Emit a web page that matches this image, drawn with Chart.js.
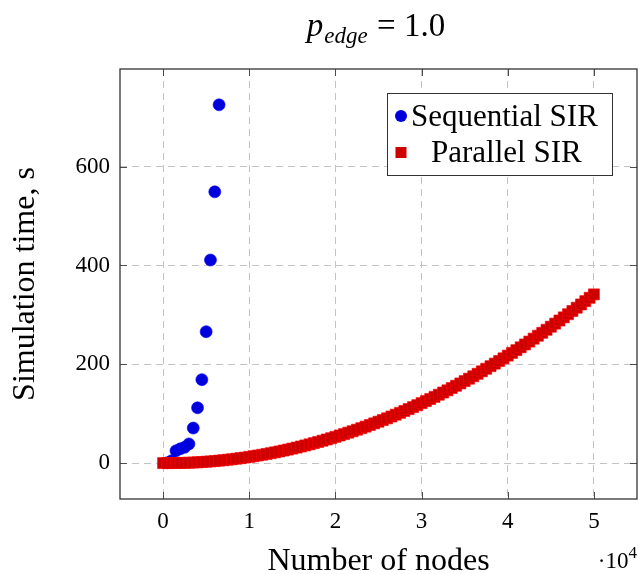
<!DOCTYPE html>
<html>
<head>
<meta charset="utf-8">
<script src="https://cdn.jsdelivr.net/npm/chart.js@4.4.1/dist/chart.umd.min.js"></script>
<style>
  html, body { margin: 0; padding: 0; background: #fff; }
</style>
</head>
<body>
<canvas id="timeChart" width="638" height="574"></canvas>
<script>
// Sequential SIR: number of nodes -> simulation time (s)
const seqNodes = [500, 1000, 1500, 2000, 2500, 3000, 3500, 4000, 4500, 5000, 5500, 6000, 6500];
const seqTime = [1.0, 5.0, 25, 29, 32, 39, 71, 112, 169, 266, 411, 549, 725];

// Parallel SIR
const parNodes = [
  0, 500, 1000, 1500, 2000, 2500, 3000, 3500, 4000, 4500,
  5000, 5500, 6000, 6500, 7000, 7500, 8000, 8500, 9000, 9500,
  10000, 10500, 11000, 11500, 12000, 12500, 13000, 13500, 14000, 14500,
  15000, 15500, 16000, 16500, 17000, 17500, 18000, 18500, 19000, 19500,
  20000, 20500, 21000, 21500, 22000, 22500, 23000, 23500, 24000, 24500,
  25000, 25500, 26000, 26500, 27000, 27500, 28000, 28500, 29000, 29500,
  30000, 30500, 31000, 31500, 32000, 32500, 33000, 33500, 34000, 34500,
  35000, 35500, 36000, 36500, 37000, 37500, 38000, 38500, 39000, 39500,
  40000, 40500, 41000, 41500, 42000, 42500, 43000, 43500, 44000, 44500,
  45000, 45500, 46000, 46500, 47000, 47500, 48000, 48500, 49000, 49500,
  50000
];
const parTime = [
  0.2, 0.2, 0.3, 0.3, 0.4, 0.6, 0.9, 1.3, 1.7, 2.3,
  2.9, 3.5, 4.3, 5.1, 6.0, 6.9, 7.9, 9.0, 10.2, 11.4,
  12.7, 14.1, 15.5, 17.0, 18.6, 20.2, 21.9, 23.7, 25.6, 27.5,
  29.5, 31.5, 33.7, 35.9, 38.1, 40.5, 42.9, 45.4, 47.9, 50.5,
  53.2, 56.0, 58.8, 61.7, 64.6, 67.7, 70.8, 73.9, 77.2, 80.5,
  83.9, 87.3, 90.8, 94.4, 98.1, 101.8, 105.6, 109.5, 113.4, 117.4,
  121.5, 125.6, 129.9, 134.1, 138.5, 142.9, 147.4, 152.0, 156.6, 161.3,
  166.1, 170.9, 175.8, 180.8, 185.9, 191.0, 196.2, 201.4, 206.7, 212.1,
  217.6, 223.1, 228.7, 234.4, 240.2, 246.0, 251.9, 257.8, 263.8, 269.9,
  276.1, 282.3, 288.6, 295.0, 301.4, 307.9, 314.5, 321.1, 327.9, 334.6,
  341.5
];

const xTicks = [0, 10000, 20000, 30000, 40000, 50000];
const yTicks = [0, 200, 400, 600];
const seriesNames = ['Sequential SIR', 'Parallel SIR'];

const serif = '"Liberation Serif", "DejaVu Serif", serif';

// frame, inward ticks, legend box, title and the 10^4 factor
const decorations = {
  id: 'decorations',
  afterDraw(chart) {
    const ctx = chart.ctx;
    const a = chart.chartArea;
    const xs = chart.scales.x, ys = chart.scales.y;
    ctx.save();

    // inward tick marks on all four sides
    ctx.strokeStyle = '#4d4d4d';
    ctx.lineWidth = 1;
    ctx.beginPath();
    xTicks.forEach(v => {
      const px = Math.round(xs.getPixelForValue(v)) + 0.5;
      ctx.moveTo(px, a.bottom); ctx.lineTo(px, a.bottom - 7);
      ctx.moveTo(px, a.top); ctx.lineTo(px, a.top + 7);
    });
    yTicks.forEach(v => {
      const py = Math.round(ys.getPixelForValue(v)) + 0.5;
      ctx.moveTo(a.left, py); ctx.lineTo(a.left + 7, py);
      ctx.moveTo(a.right, py); ctx.lineTo(a.right - 7, py);
    });
    ctx.stroke();

    // frame
    ctx.strokeStyle = '#333';
    ctx.lineWidth = 1.3;
    ctx.strokeRect(a.left, a.top, a.right - a.left, a.bottom - a.top);

    // legend
    ctx.fillStyle = '#fff';
    ctx.fillRect(387, 93, 225, 82);
    ctx.strokeStyle = '#333';
    ctx.lineWidth = 1;
    ctx.strokeRect(387.5, 93.5, 225, 82);
    ctx.fillStyle = '#0000dd';
    ctx.beginPath();
    ctx.arc(401, 116, 6, 0, Math.PI * 2);
    ctx.fill();
    ctx.fillStyle = '#cc0000';
    ctx.fillRect(395.5, 147, 11, 11);
    ctx.fillStyle = '#000';
    ctx.font = '31px ' + serif;
    ctx.textAlign = 'left';
    ctx.textBaseline = 'alphabetic';
    ctx.fillText(seriesNames[0], 411, 126);
    ctx.fillText(seriesNames[1], 431, 162);

    // title  p_edge = 1.0
    const big = '33px ' + serif, bigIt = 'italic 33px ' + serif, sub = 'italic 23px ' + serif;
    ctx.font = bigIt; const wp = ctx.measureText('p').width;
    ctx.font = sub; const we = ctx.measureText('edge').width;
    ctx.font = big; const wr = ctx.measureText(' = 1.0').width;
    let tx = 376 - (wp + we + 2 + wr) / 2;
    ctx.font = bigIt; ctx.fillText('p', tx, 36); tx += wp + 1;
    ctx.font = sub; ctx.fillText('edge', tx, 43); tx += we + 1;
    ctx.font = big; ctx.fillText(' = 1.0', tx, 36);

    // axis multiplier
    ctx.font = '17px ' + serif;
    const w4 = ctx.measureText('4').width;
    ctx.fillText('4', 637 - w4, 558);
    ctx.font = '23px ' + serif;
    ctx.textAlign = 'right';
    ctx.fillText('\u00b710', 637 - w4, 568);

    ctx.restore();
  }
};

const ctxTime = document.getElementById('timeChart').getContext('2d');
const timeChart = new Chart(ctxTime, {
  type: 'scatter',
  data: {
    datasets: [{
      label: seriesNames[0],
      data: seqNodes.map((n, i) => ({ x: n, y: seqTime[i] })),
      pointStyle: 'circle',
      pointRadius: 6,
      backgroundColor: '#0000dd',
      borderColor: '#0000ff',
      borderWidth: 0.6,
      order: 2
    }, {
      label: seriesNames[1],
      data: parNodes.map((n, i) => ({ x: n, y: parTime[i] })),
      pointStyle: 'rect',
      pointRadius: 7.8,
      backgroundColor: '#cc0000',
      borderColor: '#ff0000',
      borderWidth: 0.6,
      order: 1
    }]
  },
  options: {
    responsive: false,
    animation: false,
    devicePixelRatio: 1,
    layout: { autoPadding: false, padding: { left: 0, right: 1, top: 69, bottom: 0 } },
    plugins: {
      legend: { display: false },
      tooltip: { enabled: false }
    },
    scales: {
      x: {
        type: 'linear',
        min: -5000,
        max: 55000,
        afterFit: s => { s.height = 75; s.paddingLeft = 0; s.paddingRight = 0; },
        afterBuildTicks: s => { s.ticks = xTicks.map(v => ({ value: v })); },
        ticks: {
          padding: 9,
          color: '#000',
          font: { family: serif, size: 23 },
          callback: v => String(v / 10000)
        },
        grid: { color: '#c4c4c4', lineWidth: 1, drawTicks: false },
        border: { display: false, dash: [7, 5] },
        title: {
          display: true,
          text: 'Number of nodes',
          color: '#000',
          font: { family: serif, size: 32, lineHeight: 1 },
          padding: { top: 0, bottom: -4 }
        }
      },
      y: {
        type: 'linear',
        min: -72.5,
        max: 797.5,
        afterFit: s => { s.width = 120; s.paddingTop = 0; s.paddingBottom = 0; },
        afterBuildTicks: s => { s.ticks = yTicks.map(v => ({ value: v })); },
        ticks: {
          padding: 10,
          color: '#000',
          font: { family: serif, size: 23 }
        },
        grid: { color: '#c4c4c4', lineWidth: 1, drawTicks: false },
        border: { display: false, dash: [7, 5] },
        title: {
          display: true,
          text: 'Simulation time, s',
          color: '#000',
          font: { family: serif, size: 32, lineHeight: 1 },
          padding: { top: 10, bottom: 0 }
        }
      }
    }
  },
  plugins: [decorations]
});
</script>
</body>
</html>
